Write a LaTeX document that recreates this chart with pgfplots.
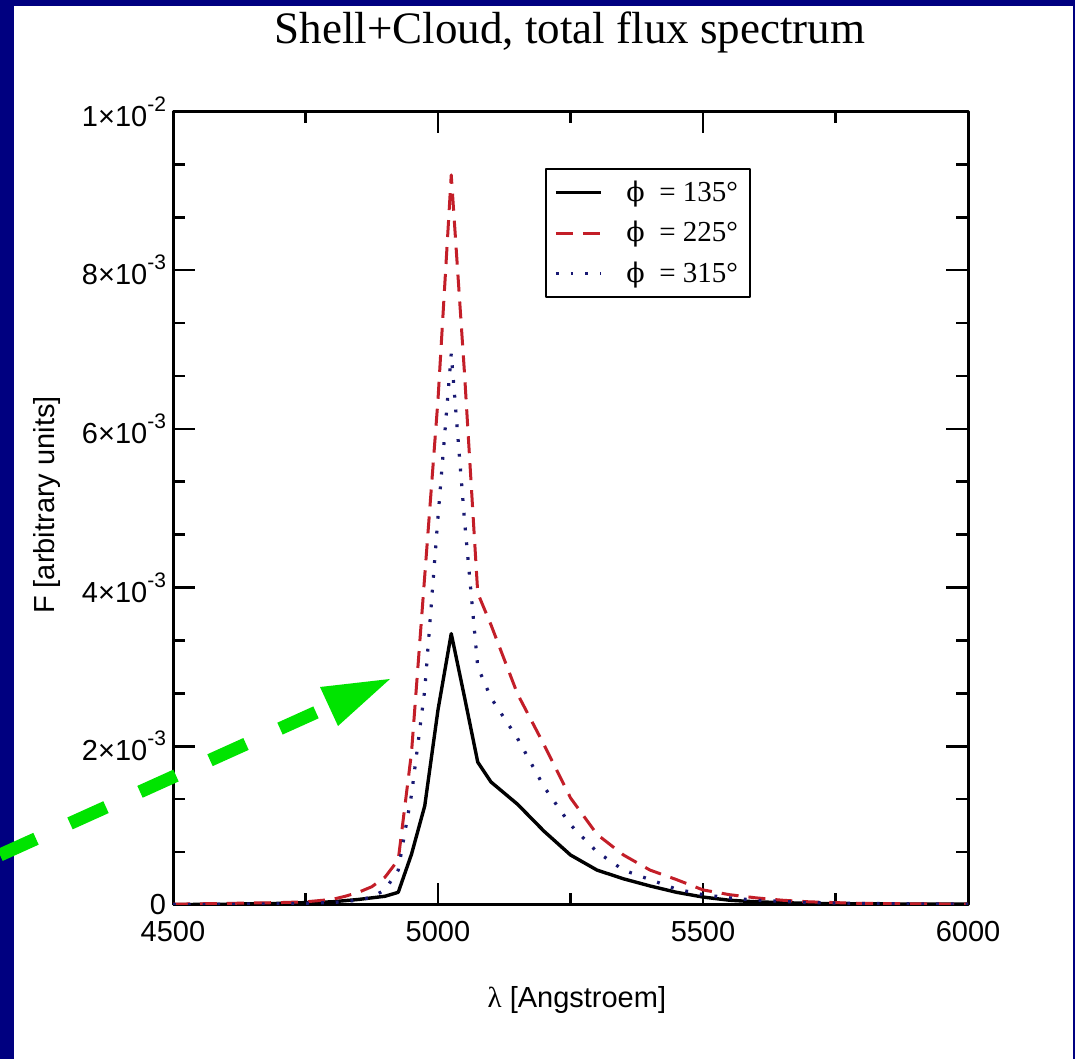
\documentclass[border=0pt]{standalone}
\usepackage{fontspec}
\setmainfont{Liberation Sans}
\newfontfamily\serif{Liberation Serif}
\newfontfamily\dvserif{DejaVu Serif}
\usepackage{pgfplots}
\pgfplotsset{compat=1.18}

\definecolor{framenavy}{RGB}{0,0,128}
\definecolor{arrowgreen}{RGB}{0,228,0}
\definecolor{dashred}{RGB}{195,30,40}
\definecolor{dotblue}{RGB}{25,25,115}

\newcommand\tfont{\fontsize{14.5}{17}\selectfont}
\newcommand\ex[1]{\raisebox{7.5pt}{\fontsize{10.5}{10}\selectfont #1}}
\newcommand\ph{{\dvserif\fontsize{13.5}{15}\selectfont ϕ}}

% flux in units of 1e-3
\pgfplotstableread{
lam F
4500 0.005
4600 0.01
4700 0.02
4800 0.04
4850 0.07
4900 0.11
4925 0.16
4950 0.64
4975 1.25
5000 2.46
5025 3.42
5050 2.62
5075 1.80
5100 1.55
5150 1.27
5200 0.93
5250 0.63
5300 0.44
5350 0.33
5400 0.24
5450 0.16
5500 0.10
5550 0.06
5600 0.04
5700 0.02
5800 0.015
6000 0.01
}\phione

\pgfplotstableread{
lam F
4500 0.01
4600 0.02
4700 0.03
4750 0.04
4800 0.07
4825 0.11
4850 0.16
4875 0.23
4900 0.35
4925 0.57
4950 1.92
4975 4.15
5000 6.37
5025 9.2
5050 6.7
5075 3.93
5100 3.53
5150 2.66
5200 2.02
5250 1.35
5300 0.89
5350 0.63
5400 0.44
5450 0.32
5500 0.19
5550 0.13
5600 0.09
5650 0.06
5700 0.04
5800 0.02
6000 0.01
}\phitwo

\pgfplotstableread{
lam F
4500 0.005
4600 0.01
4700 0.015
4800 0.03
4850 0.06
4875 0.10
4900 0.19
4925 0.44
4950 1.39
4975 2.71
5000 4.89
5025 6.95
5050 4.85
5075 3.00
5100 2.61
5150 2.10
5200 1.49
5250 1.01
5300 0.67
5350 0.44
5400 0.32
5450 0.20
5500 0.13
5550 0.09
5600 0.06
5700 0.03
5800 0.02
6000 0.01
}\phithree

\begin{document}
\begin{tikzpicture}[x=1pt,y=1pt]
\useasboundingbox (0,0) rectangle (537.5,529.5);
\clip (0,0) rectangle (537.5,529.5);
\fill[framenavy] (0,0) rectangle (537.5,529.5);
\fill[white] (7,0) rectangle (536.25,526.5);

\node[anchor=base, font=\serif\fontsize{22.5}{26}\selectfont] at (285,507.5)
  {Shell+Cloud, total flux spectrum};

\begin{axis}[
    at={(86.5pt,77pt)}, anchor=south west,
    scale only axis, width=397.5pt, height=396.75pt,
    xmin=4500, xmax=6000, ymin=0, ymax=10,
    xtick={4500,5000,5500,6000},
    xticklabels={4500,5000,5500,6000},
    ytick={0,2,4,6,8,10},
    yticklabels={0, 2×10\ex{-3}, 4×10\ex{-3}, 6×10\ex{-3}, 8×10\ex{-3}, 1×10\ex{-2}},
    minor x tick num=1, minor y tick num=2,
    tick align=inside,
    major tick length=11pt, minor tick length=6pt,
    tick style={black, line width=1.3pt},
    axis line style={line width=1.5pt},
    ticklabel style={font=\tfont},
    xticklabel style={yshift=-4.5pt},
    xlabel={{\serif λ} [Angstroem]},
    ylabel={F [arbitrary units]},
    label style={font=\tfont},
    xlabel style={at={(axis description cs:0.508,-0.12)}, anchor=center},
    ylabel style={at={(axis description cs:-0.158,0.504)}, anchor=center},
    legend style={at={(0.468,0.929)}, anchor=north west, draw=black,
      line width=1pt, font=\serif\fontsize{14.5}{17}\selectfont,
      inner xsep=4pt, inner ysep=4pt, row sep=4.5pt,
      /tikz/every odd column/.append style={column sep=10pt}},
    legend cell align=left,
    legend image code/.code={\draw[#1] (0pt,0pt) -- (22.5pt,0pt);},
    line join=round,
]
\addplot[black, line width=1.7pt] table[x=lam, y=F] {\phione};
\addlegendentry{\ph\enspace= 135°}
\addplot[dashred, line width=1.5pt, dash pattern=on 8.5pt off 5pt] table[x=lam, y=F] {\phitwo};
\addlegendentry{\ph\enspace= 225°}
\addplot[dotblue, line width=1.6pt, dash pattern=on 1.4pt off 6pt] table[x=lam, y=F] {\phithree};
\addlegendentry{\ph\enspace= 315°}
\end{axis}

% green annotation arrow
\draw[arrowgreen, line width=6.5pt, dash pattern=on 19.75pt off 18.65pt] (0,102) -- (164.5,176.25);
\fill[arrowgreen] (195,190) -- (160,186) -- (169,166.5) -- cycle;
\end{tikzpicture}
\end{document}
